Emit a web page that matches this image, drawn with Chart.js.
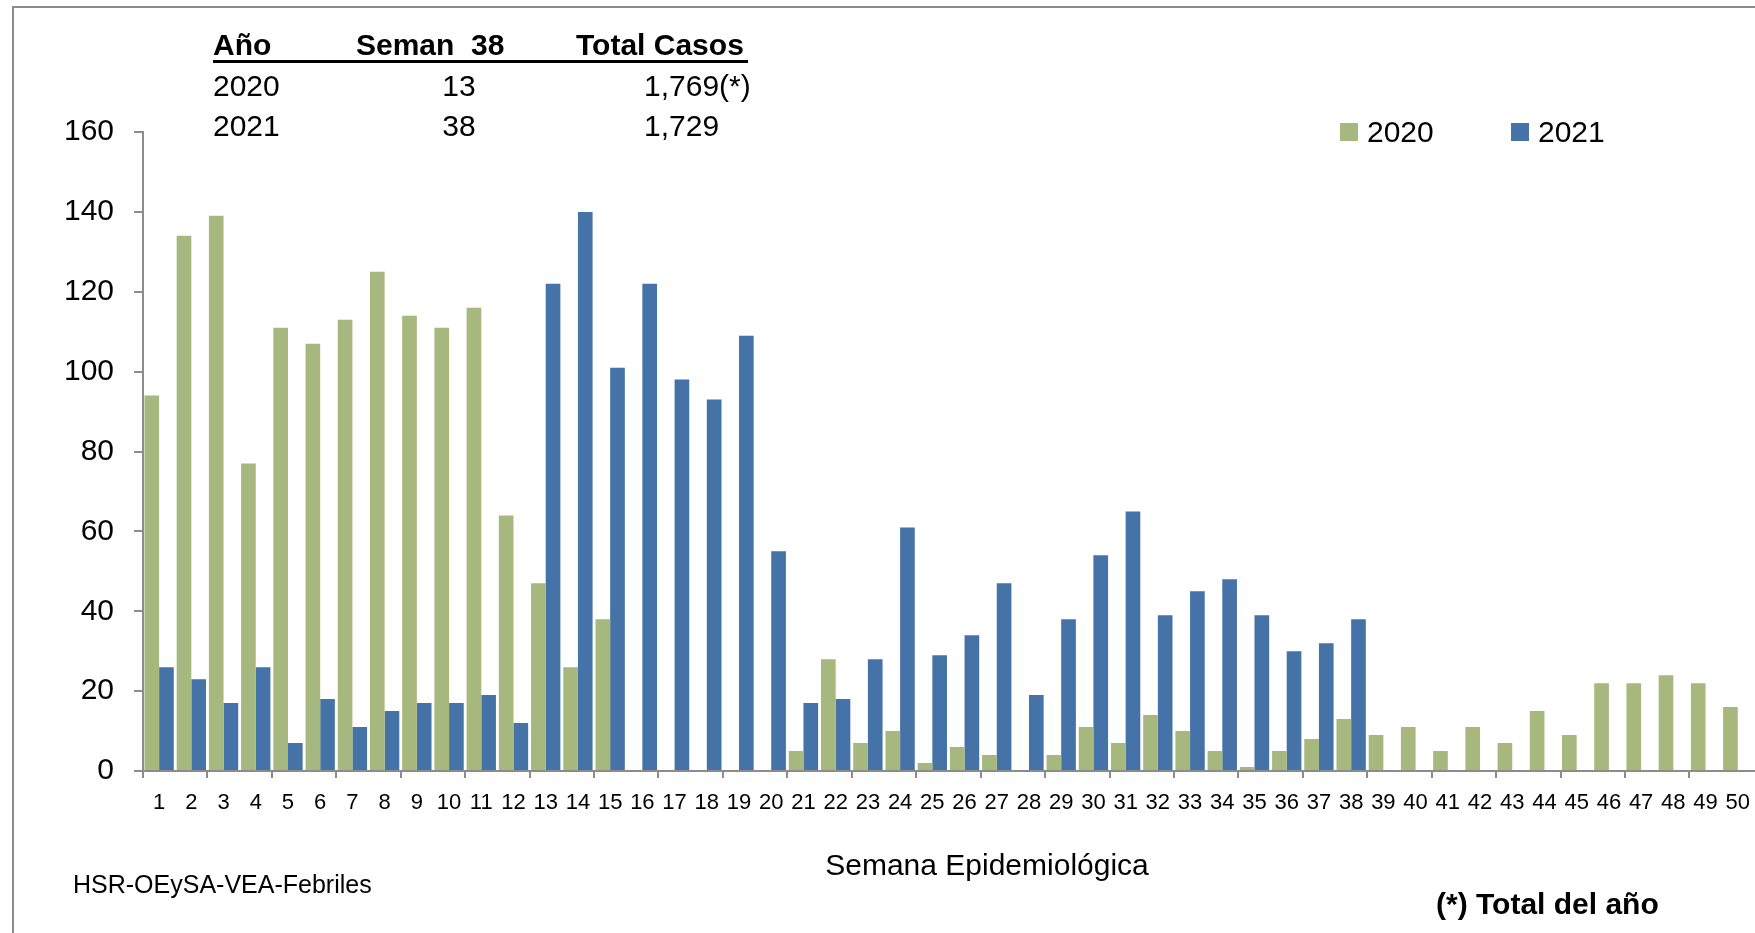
<!DOCTYPE html>
<html>
<head>
<meta charset="utf-8">
<script src="https://cdn.jsdelivr.net/npm/chart.js@4.4.0/dist/chart.umd.min.js"></script>
<style>
  body { margin: 0; overflow: hidden; background: #fff; color: #000;
         font-family: "Liberation Sans", Arial, sans-serif; }
  #wrap { position: relative; width: 1755px; height: 933px; overflow: hidden; }
  #frame { position: absolute; left: 12px; top: 6px; width: 1800px; height: 1000px;
           border-left: 2px solid #8c8c8c; border-top: 2px solid #8c8c8c; }
  #box { position: absolute; left: 0; top: 0; width: 1762px; height: 933px; }
  .t { position: absolute; font-size: 30px; line-height: 36px; white-space: pre; }
  .b { font-weight: bold; }
  .c { width: 100px; text-align: center; }
  #rule { position: absolute; left: 213px; top: 60px; width: 535px; height: 3px; background: #000; }
  .sw { position: absolute; width: 18px; height: 18px; top: 123px; }
  #xtitle { left: 687px; top: 847px; width: 600px; text-align: center; }
  #source { left: 73px; top: 869px; font-size: 25px; line-height: 30px; }
  #note { left: 1436px; top: 886px; }
</style>
</head>
<body>
<div id="wrap">
  <div id="frame"></div>
  <div id="box"><canvas id="chart"></canvas></div>

  <div class="t b" style="left:213px; top:27px;">Año</div>
  <div class="t b" style="left:356px; top:27px;">Seman  38</div>
  <div class="t b" style="left:576px; top:27px;">Total Casos</div>
  <div id="rule"></div>
  <div class="t" style="left:213px; top:68px;">2020</div>
  <div class="t c" style="left:409px; top:68px;">13</div>
  <div class="t" style="left:644px; top:68px;">1,769(*)</div>
  <div class="t" style="left:213px; top:108px;">2021</div>
  <div class="t c" style="left:409px; top:108px;">38</div>
  <div class="t" style="left:644px; top:108px;">1,729</div>

  <div id="legend"></div>
  <div class="t" id="xtitle">Semana Epidemiológica</div>
  <div class="t" id="source">HSR-OEySA-VEA-Febriles</div>
  <div class="t b" id="note">(*) Total del año</div>
</div>
<script>
var weeks = ['1','2','3','4','5','6','7','8','9','10',
  '11','12','13','14','15','16','17','18','19','20',
  '21','22','23','24','25','26','27','28','29','30',
  '31','32','33','34','35','36','37','38','39','40',
  '41','42','43','44','45','46','47','48','49','50'];

var casos2020 = [94, 134, 139, 77, 111, 107, 113, 125, 114, 111,
  116, 64, 47, 26, 38, 0, 0, 0, 0, 0,
  5, 28, 7, 10, 2, 6, 4, 0, 4, 11,
  7, 14, 10, 5, 1, 5, 8, 13, 9, 11,
  5, 11, 7, 15, 9, 22, 22, 24, 22, 16];

var casos2021 = [26, 23, 17, 26, 7, 18, 11, 15, 17, 17,
  19, 12, 122, 140, 101, 122, 98, 93, 109, 55,
  17, 18, 28, 61, 29, 34, 47, 19, 38, 54,
  65, 39, 45, 48, 39, 30, 32, 38, null, null,
  null, null, null, null, null, null, null, null, null, null];

var yTicks = [0, 20, 40, 60, 80, 100, 120, 140, 160];

var green = '#a6b87d';
var blue = '#4572a7';
var axisGray = '#8c8c8c';

document.addEventListener("DOMContentLoaded", function() {
  var ctx = document.getElementById('chart').getContext('2d');
  var chart = new Chart(ctx, {
    type: 'bar',
    data: {
      labels: weeks,
      datasets: [
        { label: '2020', data: casos2020, backgroundColor: green },
        { label: '2021', data: casos2021, backgroundColor: blue }
      ]
    },
    options: {
      responsive: true,
      maintainAspectRatio: false,
      animation: false,
      events: [],
      datasets: { bar: { categoryPercentage: 0.91, barPercentage: 1.0 } },
      layout: { padding: { top: 132, left: 0, right: 0, bottom: 0 } },
      plugins: {
        legend: { display: false },
        tooltip: { enabled: false }
      },
      scales: {
        x: {
          offset: true,
          afterFit: function(scale) { scale.height = 162; },
          grid: {
            offset: true,
            drawOnChartArea: false,
            drawTicks: true,
            tickLength: 7,
            lineWidth: 2,
            color: function(c) { return c.index % 2 === 0 ? axisGray : 'rgba(0,0,0,0)'; }
          },
          border: { color: axisGray, width: 2 },
          ticks: {
            autoSkip: false, maxRotation: 0, padding: 12, color: '#000',
            font: { family: 'Liberation Sans', size: 22 }
          }
        },
        y: {
          min: 0,
          max: 160,
          afterFit: function(scale) { scale.width = 143; },
          afterBuildTicks: function(scale) {
            scale.ticks = yTicks.map(function(v) { return { value: v }; });
          },
          grid: {
            drawOnChartArea: false,
            drawTicks: true,
            tickLength: 9,
            lineWidth: 2,
            color: axisGray
          },
          border: { color: axisGray, width: 2 },
          ticks: {
            padding: 20, color: '#000',
            font: { family: 'Liberation Sans', size: 30 }
          }
        }
      }
    }
  });

  // legend laid out like the original, top right
  var leg = document.getElementById('legend');
  chart.data.datasets.forEach(function(ds, i) {
    var x = 1340 + i * 171;
    var sw = document.createElement('div');
    sw.className = 'sw';
    sw.style.left = x + 'px';
    sw.style.background = ds.backgroundColor;
    leg.appendChild(sw);
    var tx = document.createElement('div');
    tx.className = 't';
    tx.style.left = (x + 27) + 'px';
    tx.style.top = '114px';
    tx.textContent = ds.label;
    leg.appendChild(tx);
  });
});
</script>
</body>
</html>
